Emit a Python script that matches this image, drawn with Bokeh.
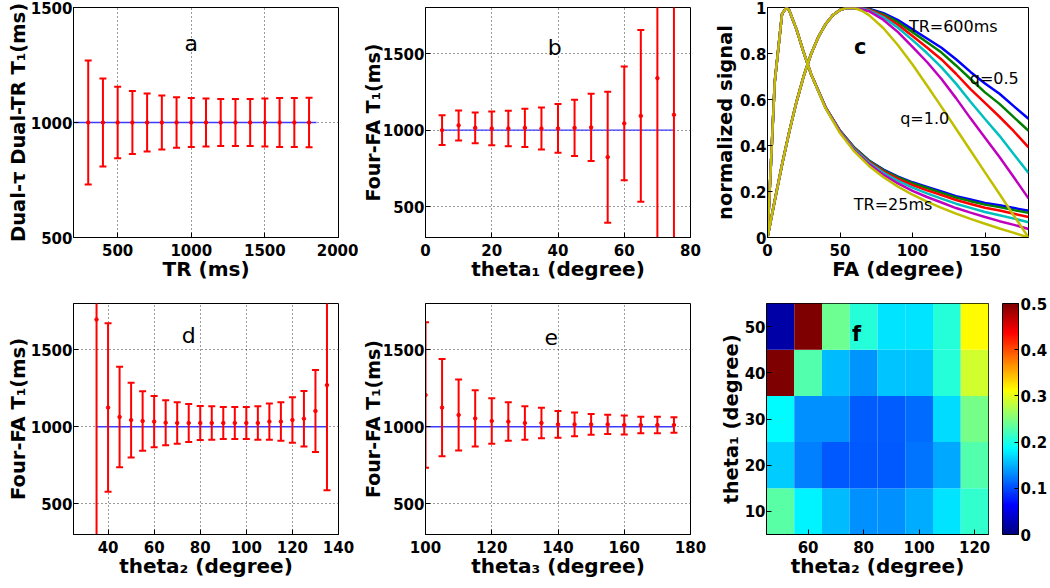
from bokeh.plotting import figure
from bokeh.layouts import row, column
from bokeh.models import (ColumnDataSource, Range1d, FixedTicker,
                          ColorBar, LinearColorMapper, Label)
from bokeh.transform import linear_cmap
from bokeh.embed import file_html
from bokeh.resources import INLINE

# ---------------- data ----------------
TRUE_T1 = 1000

# (a) Dual-tau Dual-TR T1 vs TR
tr_ms = [300, 400, 500, 600, 700, 800, 900, 1000, 1100, 1200, 1300, 1400, 1500, 1600, 1700, 1800]
t1_a = [1000, 1000, 1000, 1000, 1000, 1000, 1000, 1000, 1000, 1000, 1000, 1000, 1000, 1000, 1000, 1000]
sd_a = [270, 191, 155, 137, 126, 117, 110, 107, 104, 102, 102, 102, 104, 106, 106, 108]
ref_x_a = [200, 1850]

# (b) Four-FA T1 vs theta1
theta1_b = [5, 10, 15, 20, 25, 30, 35, 40, 45, 50, 55, 60, 65, 70, 75]
t1_b = [1000, 1031, 1015, 1011, 1011, 1015, 1011, 1011, 1015, 1018, 824, 1044, 1093, 1339, 1100]
sd_b = [97, 98, 101, 110, 116, 125, 137, 159, 184, 219, 427, 371, 560, 1200, 1500]
ref_x_b = [5, 75]

# (c) normalized signal vs FA
fa_600 = [0, 5, 10, 15, 20, 25, 30, 35, 40, 45, 50, 55, 60, 65, 70, 80, 90, 100, 110, 120, 130, 140, 150, 160, 170, 180]
head_600 = [0, 0.161, 0.316, 0.460, 0.590, 0.703, 0.797, 0.871, 0.927, 0.966, 0.989, 0.999, 0.998]
blue_600 = head_600 + [0.999, 0.995, 0.975, 0.945, 0.905, 0.865, 0.825, 0.775, 0.720, 0.670, 0.625, 0.570, 0.516]
green_600 = head_600 + [0.998, 0.993, 0.970, 0.936, 0.893, 0.849, 0.804, 0.748, 0.689, 0.631, 0.581, 0.522, 0.464]
red_600 = head_600 + [0.997, 0.991, 0.964, 0.925, 0.876, 0.826, 0.774, 0.712, 0.645, 0.585, 0.525, 0.461, 0.392]
cyan_600 = head_600 + [0.995, 0.988, 0.957, 0.912, 0.858, 0.802, 0.740, 0.669, 0.590, 0.515, 0.442, 0.361, 0.281]
magenta_600 = head_600 + [0.992, 0.984, 0.946, 0.893, 0.829, 0.763, 0.689, 0.606, 0.518, 0.434, 0.350, 0.261, 0.170]
yellow_600 = head_600 + [0.986, 0.967, 0.910, 0.836, 0.752, 0.661, 0.568, 0.473, 0.378, 0.283, 0.189, 0.094, 0]

fa_25 = [0, 5, 10, 13, 15, 20, 25, 30, 40, 50, 60, 70, 80, 90, 100, 110, 120, 130, 140, 150, 160, 170, 180]
head_25 = [0, 0.677, 0.971, 1.0, 0.987, 0.905, 0.804, 0.711]
blue_25 = head_25 + [0.567, 0.465, 0.390, 0.335, 0.295, 0.265, 0.240, 0.220, 0.200, 0.180, 0.165, 0.150, 0.140, 0.128, 0.116]
green_25 = head_25 + [0.567, 0.464, 0.389, 0.333, 0.292, 0.261, 0.236, 0.215, 0.194, 0.174, 0.158, 0.143, 0.132, 0.119, 0.107]
red_25 = head_25 + [0.566, 0.462, 0.386, 0.329, 0.287, 0.255, 0.228, 0.205, 0.184, 0.163, 0.146, 0.129, 0.117, 0.103, 0.089]
cyan_25 = head_25 + [0.565, 0.460, 0.383, 0.325, 0.281, 0.246, 0.217, 0.192, 0.169, 0.147, 0.129, 0.111, 0.097, 0.082, 0.066]
magenta_25 = head_25 + [0.564, 0.458, 0.378, 0.319, 0.273, 0.235, 0.203, 0.176, 0.152, 0.128, 0.108, 0.089, 0.071, 0.055, 0.037]
yellow_25 = head_25 + [0.562, 0.454, 0.373, 0.311, 0.262, 0.221, 0.186, 0.156, 0.129, 0.104, 0.081, 0.060, 0.039, 0.020, 0]

# (d) Four-FA T1 vs theta2
theta2_d = [35, 40, 45, 50, 55, 60, 65, 70, 75, 80, 85, 90, 95, 100, 105, 110, 115, 120, 125, 130, 135]
t1_d = [1696, 1124, 1063, 1043, 1037, 1033, 1026, 1024, 1024, 1024, 1024, 1024, 1024, 1024, 1024, 1033, 1033, 1043, 1052, 1102, 1270]
sd_d = [1500, 547, 327, 243, 193, 166, 146, 134, 123, 110, 109, 104, 104, 104, 109, 118, 125, 148, 180, 266, 683]
ref_x_d = [35, 135]

# (e) Four-FA T1 vs theta3
theta3_e = [100, 105, 110, 115, 120, 125, 130, 135, 140, 145, 150, 155, 160, 165, 170, 175]
t1_e = [1206, 1124, 1076, 1054, 1037, 1033, 1024, 1024, 1015, 1015, 1015, 1015, 1011, 1011, 1011, 1011]
sd_e = [473, 316, 230, 182, 148, 125, 109, 99, 87, 77, 68, 63, 61, 54, 54, 50]
ref_x_e = [100, 175]

# (f) relative error map, theta1 (rows) x theta2 (columns)
theta2_f = [50, 60, 70, 80, 90, 100, 110, 120]
theta1_f = [10, 20, 30, 40, 50]
err_f = [
    [0.232, 0.182, 0.156, 0.134, 0.134, 0.148, 0.175, 0.212],
    [0.163, 0.126, 0.107, 0.107, 0.107, 0.121, 0.146, 0.227],
    [0.187, 0.134, 0.133, 0.109, 0.109, 0.117, 0.170, 0.246],
    [0.550, 0.227, 0.156, 0.136, 0.160, 0.160, 0.207, 0.290],
    [0.021, 0.550, 0.241, 0.207, 0.175, 0.175, 0.207, 0.3125],
]

# ---------------- styling helpers ----------------
FONT = "DejaVu Sans"


def jet_palette(n=256):
    cols = []
    for i in range(n):
        t = i / (n - 1)
        r = min(max(1.5 - abs(4 * t - 3), 0), 1)
        g = min(max(1.5 - abs(4 * t - 2), 0), 1)
        b = min(max(1.5 - abs(4 * t - 1), 0), 1)
        cols.append("#%02x%02x%02x" % (int(r * 255), int(g * 255), int(b * 255)))
    return cols


def style_axis(ax, lab_standoff, axlab_standoff, axlab_size="20px"):
    ax.major_label_text_font = FONT
    ax.major_label_text_font_style = "bold"
    ax.major_label_text_font_size = "15px"
    ax.major_label_text_color = "black"
    ax.axis_label_text_font = FONT
    ax.axis_label_text_font_style = "bold"
    ax.axis_label_text_font_size = axlab_size
    ax.axis_label_text_color = "black"
    ax.major_tick_in = 5
    ax.major_tick_out = 0
    ax.minor_tick_in = 0
    ax.minor_tick_out = 0
    ax.axis_line_color = "black"
    ax.major_tick_line_color = "black"
    ax.major_label_standoff = lab_standoff
    ax.axis_label_standoff = axlab_standoff


def base_fig(w, h, xr, yr, xt, yt, bl, br, bt, bb, xlabel, ylabel,
             grid=True, ylab_size="19.5px", ylab_standoff=-2):
    p = figure(width=w, height=h, x_range=Range1d(*xr), y_range=Range1d(*yr),
               output_backend="svg", toolbar_location=None,
               min_border_left=bl, min_border_right=br,
               min_border_top=bt, min_border_bottom=bb)
    p.outline_line_color = "black"
    p.outline_line_width = 1
    p.xaxis.ticker = FixedTicker(ticks=xt)
    p.yaxis.ticker = FixedTicker(ticks=yt)
    p.xaxis.axis_label = xlabel
    p.yaxis.axis_label = ylabel
    style_axis(p.xaxis[0], 6, -2)
    style_axis(p.yaxis[0], 1, ylab_standoff, ylab_size)
    if grid:
        p.grid.grid_line_color = "#222222"
        p.grid.grid_line_dash = "1 3"
        p.grid.grid_line_width = 1
        p.grid.grid_line_alpha = 0.9
    else:
        p.grid.visible = False
    return p


def errbars(p, x, m, s):
    lo = [mi - si for mi, si in zip(m, s)]
    hi = [mi + si for mi, si in zip(m, s)]
    src = ColumnDataSource(dict(x=x, m=m, lo=lo, hi=hi))
    p.segment("x", "lo", "x", "hi", source=src, line_color="red", line_width=2)
    p.scatter("x", "lo", source=src, marker="dash", size=7, line_color="red", line_width=2)
    p.scatter("x", "hi", source=src, marker="dash", size=7, line_color="red", line_width=2)
    p.scatter("x", "m", source=src, marker="circle", size=3.5, fill_color="red", line_color="red")


def ref_line(p, xs):
    p.line(xs, [TRUE_T1, TRUE_T1], line_color="#3b3bff", line_width=1.4)


def letter(p, x, y, t, bold=False, size="22px"):
    p.add_layout(Label(x=x, y=y, text=t, text_font=FONT, text_font_size=size,
                       text_font_style="bold" if bold else "normal",
                       text_align="center", text_baseline="middle", text_color="black"))


# ---------------- panel a ----------------
pa = base_fig(358, 296, (200, 2000), (500, 1500), [500, 1000, 1500, 2000], [500, 1000, 1500],
              73, 20, 7, 59, "TR (ms)", "Dual-τ Dual-TR T₁(ms)")
ref_line(pa, ref_x_a)
errbars(pa, tr_ms, t1_a, sd_a)
letter(pa, 1000, 1342, "a")

# ---------------- panel b ----------------
pb = base_fig(352, 296, (0, 80), (300, 1800), [0, 20, 40, 60, 80], [500, 1000, 1500],
              66, 20, 7, 59, "theta₁ (degree)", "Four-FA T₁(ms)", ylab_size="19px", ylab_standoff=-4)
ref_line(pb, ref_x_b)
errbars(pb, theta1_b, t1_b, sd_b)
letter(pb, 39, 1541, "b")

# ---------------- panel c ----------------
pc = base_fig(340, 296, (0, 180), (0, 1), [0, 50, 100, 150], [0, 0.2, 0.4, 0.6, 0.8, 1.0],
              57, 22, 7, 59, "FA (degree)", "normalized signal", grid=False, ylab_standoff=0)
pc.yaxis[0].major_label_overrides = {0: "0", 1: "1"}
curve_colors = ["#0000ff", "#008000", "#ff0000", "#00bfbf", "#bf00bf", "#bfbf00"]
fam600 = [blue_600, green_600, red_600, cyan_600, magenta_600, yellow_600]
fam25 = [blue_25, green_25, red_25, cyan_25, magenta_25, yellow_25]
for col, s600, s25 in zip(curve_colors, fam600, fam25):
    pc.line(fa_600, s600, line_color=col, line_width=2.5)
    pc.line(fa_25, s25, line_color=col, line_width=2.5)
for (x, y, t) in [(97.5, 0.918, "TR=600ms"), (139.5, 0.692, "q=0.5"),
                  (91.5, 0.516, "q=1.0"), (59.5, 0.142, "TR=25ms")]:
    pc.add_layout(Label(x=x, y=y, text=t, text_font=FONT, text_font_size="16px",
                        text_align="left", text_baseline="middle", text_color="black"))
letter(pc, 64, 0.829, "c", bold=True, size="21px")

# ---------------- panel d ----------------
pd_ = base_fig(358, 292, (25, 140), (300, 1800), [40, 60, 80, 100, 120, 140], [500, 1000, 1500],
               73, 20, 7, 54, "theta₂ (degree)", "Four-FA T₁(ms)")
ref_line(pd_, ref_x_d)
errbars(pd_, theta2_d, t1_d, sd_d)
letter(pd_, 75, 1593, "d")

# ---------------- panel e ----------------
pe = base_fig(352, 292, (100, 180), (300, 1800), [100, 120, 140, 160, 180], [500, 1000, 1500],
              66, 20, 7, 54, "theta₃ (degree)", "Four-FA T₁(ms)", ylab_size="19px", ylab_standoff=-4)
ref_line(pe, ref_x_e)
errbars(pe, theta3_e, t1_e, sd_e)
letter(pe, 138, 1582, "e")

# ---------------- panel f ----------------
pf = base_fig(340, 292, (45, 125), (5, 55), [60, 80, 100, 120], [10, 20, 30, 40, 50],
              56, 57, 7, 54, "theta₂ (degree)", "theta₁ (degree)", grid=False, ylab_standoff=-1)
JET = jet_palette()
cx, cy, cv = [], [], []
for i, t1 in enumerate(theta1_f):
    for j, t2 in enumerate(theta2_f):
        cx.append(t2)
        cy.append(t1)
        cv.append(err_f[i][j])
fsrc = ColumnDataSource(dict(x=cx, y=cy, v=cv))
pf.rect("x", "y", width=10, height=10, source=fsrc,
        fill_color=linear_cmap("v", JET, 0, 0.5), line_color=None)
letter(pf, 77.5, 48.4, "f", bold=True, size="21px")
mapper = LinearColorMapper(palette=JET, low=0, high=0.5)
cb = ColorBar(color_mapper=mapper, width=16, margin=0, padding=0, location=(14, 0),
              ticker=FixedTicker(ticks=[0, 0.1, 0.2, 0.3, 0.4, 0.5]),
              major_label_overrides={0: "0"},
              major_label_text_font=FONT, major_label_text_font_style="bold",
              major_label_text_font_size="15px", major_label_text_color="black",
              label_standoff=2, major_tick_in=4, major_tick_out=0,
              major_tick_line_color="black", bar_line_color="black",
              border_line_color=None, background_fill_color=None)
pf.add_layout(cb, "right")

layout = column(row(pa, pb, pc), row(pd_, pe, pf))

open("out.html", "w").write(file_html(layout, INLINE))
